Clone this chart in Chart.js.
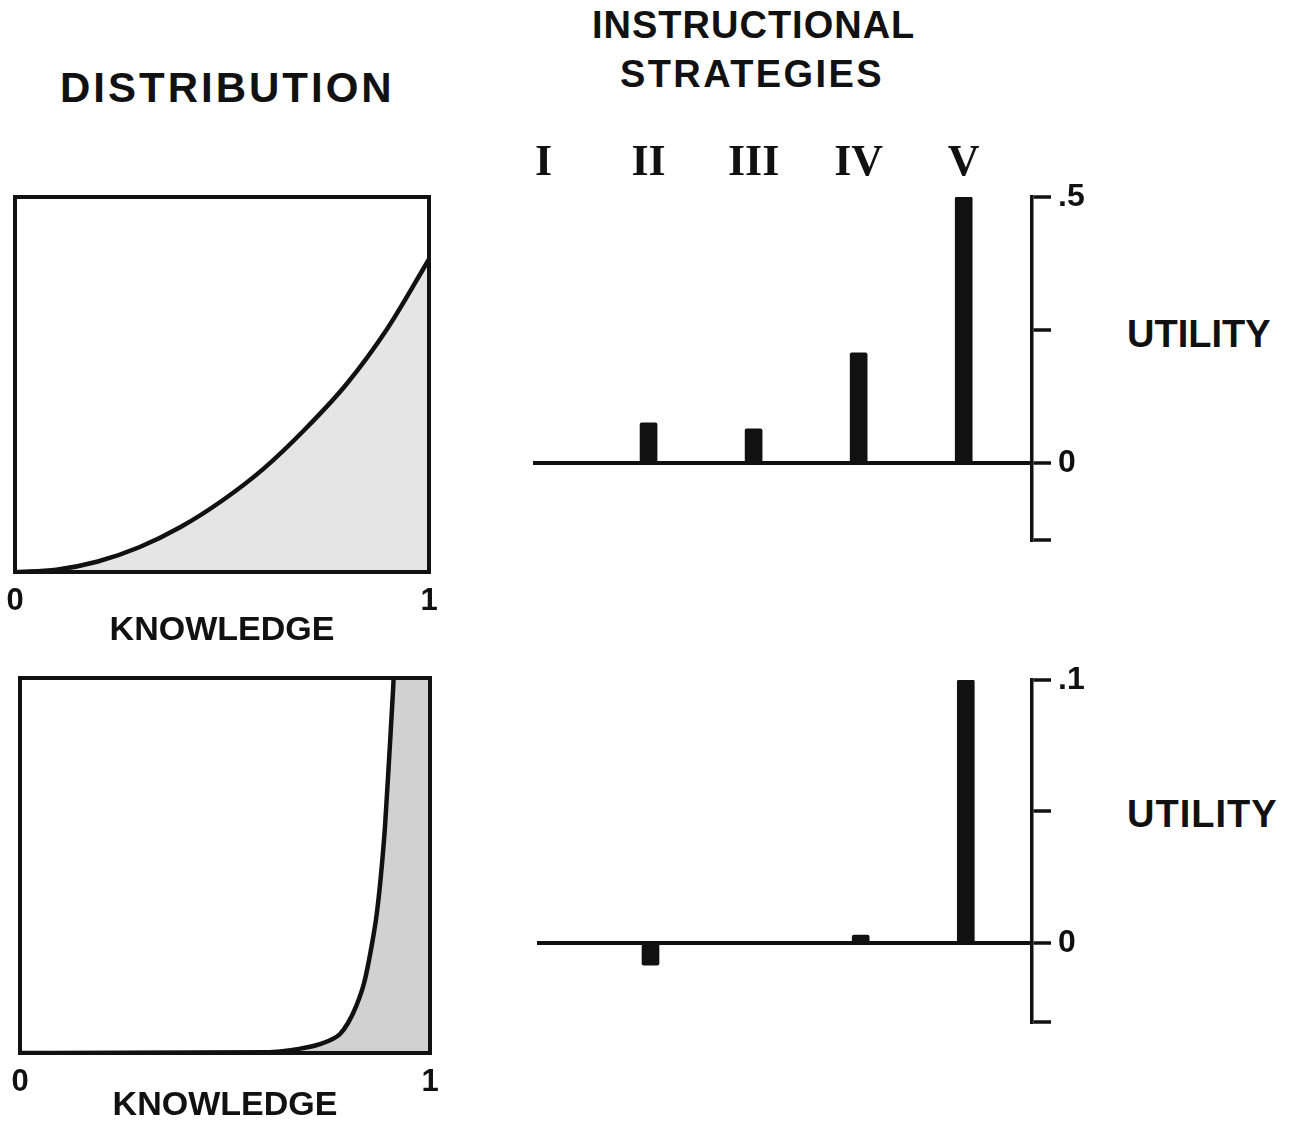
<!DOCTYPE html>
<html>
<head>
<meta charset="utf-8">
<script src="https://cdn.jsdelivr.net/npm/chart.js@4.4.0/dist/chart.umd.min.js"></script>
<style>
  body { margin: 0; background: #fff; width: 1290px; height: 1129px; overflow: hidden; position: relative;
         font-family: "Liberation Sans", Arial, sans-serif; }
  canvas { position: absolute; }
  .lbl { position: absolute; font-weight: bold; line-height: 1; white-space: nowrap; color: #111; }
</style>
</head>
<body>
<div class="lbl" style="left:60px;top:67px;font-size:42px;letter-spacing:3px">DISTRIBUTION</div>
<div class="lbl" style="left:592px;top:6px;font-size:38px;letter-spacing:1px">INSTRUCTIONAL</div>
<div class="lbl" style="left:620px;top:55px;font-size:38px;letter-spacing:2.4px">STRATEGIES</div>
<div class="lbl" style="left:1127px;top:315px;font-size:38px">UTILITY</div>
<div class="lbl" style="left:1127px;top:795px;font-size:38px;letter-spacing:1px">UTILITY</div>

<canvas id="dist-top" width="454" height="480" style="left:-5px;top:180px"></canvas>
<canvas id="dist-bottom" width="450" height="469" style="left:0;top:660px"></canvas>
<canvas id="util-top" width="640" height="446" style="left:480px;top:120px"></canvas>
<canvas id="util-bottom" width="640" height="448" style="left:480px;top:600px"></canvas>

<script>
// distribution curves (knowledge 0..1, density as share of box height)
const knowledgeTop  = [0, 0.1, 0.2, 0.3, 0.4, 0.5, 0.6, 0.7, 0.8, 0.9, 1];
const densityTop    = [0, 0.006, 0.028, 0.066, 0.12, 0.19, 0.275, 0.38, 0.5, 0.65, 0.834];
const knowledgeBottom = [0, 0.6, 0.64, 0.68, 0.72, 0.76, 0.78, 0.8, 0.82, 0.84, 0.86, 0.87, 0.88, 0.89, 0.9, 0.91, 0.92, 0.95, 1];
const densityBottom   = [0, 0.002, 0.005, 0.011, 0.02, 0.036, 0.05, 0.08, 0.125, 0.19, 0.3, 0.37, 0.47, 0.6, 0.78, 0.97, 1.2, 2.0, 3.5];
const knowledgeTicks = [0, 1];
const knowledgeTickLabels = ['0', '1'];

// instructional strategies and their utilities
const strategies = [1, 2, 3, 4, 5];
const strategyLabels = ['I', 'II', 'III', 'IV', 'V'];
const utilityTop    = [0, 0.075, 0.064, 0.207, 0.5];
const utilityBottom = [0, -0.0085, 0, 0.003, 0.1];
const utilityTicksTop = [-0.145, 0, 0.25, 0.5];
const utilityTickLabelsTop = ['', '0', '', '.5'];
const utilityTicksBottom = [-0.03, 0, 0.05, 0.1];
const utilityTickLabelsBottom = ['', '0', '', '.1'];

const INK = '#111';
const SANS = '"Liberation Sans", Arial, sans-serif';
const SERIF = '"Liberation Serif", "Times New Roman", serif';

const boxPlugin = {
  id: 'box',
  afterDatasetsDraw(chart) {
    const { ctx, chartArea: a } = chart;
    ctx.save();
    ctx.strokeStyle = INK;
    ctx.lineWidth = 4;
    ctx.strokeRect(a.left, a.top, a.right - a.left, a.bottom - a.top);
    ctx.restore();
  }
};

function distChart(id, xs, ys, shade, pad, axisH, titlePad) {
  return new Chart(document.getElementById(id), {
    type: 'line',
    data: {
      datasets: [{
        data: xs.map((x, i) => ({ x, y: ys[i] })),
        borderColor: INK,
        borderWidth: 4.5,
        pointRadius: 0,
        fill: 'origin',
        backgroundColor: shade,
        cubicInterpolationMode: 'monotone'
      }]
    },
    options: {
      responsive: false,
      animation: false,
      layout: { padding: pad },
      plugins: { legend: { display: false }, tooltip: { enabled: false } },
      scales: {
        x: {
          type: 'linear', min: 0, max: 1,
          grid: { display: false },
          border: { display: false },
          afterBuildTicks: s => { s.ticks = knowledgeTicks.map(v => ({ value: v })); },
          afterFit: s => { s.height = axisH; },
          ticks: {
            color: INK, padding: 3, maxRotation: 0, autoSkip: false,
            font: { family: SANS, size: 31, weight: 'bold' },
            callback: v => knowledgeTickLabels[knowledgeTicks.indexOf(v)]
          },
          title: {
            display: true, text: 'KNOWLEDGE', color: INK,
            font: { family: SANS, size: 34, weight: 'bold' },
            padding: { top: 0, bottom: titlePad }
          }
        },
        y: { display: false, min: 0, max: 1 }
      }
    },
    plugins: [boxPlugin]
  });
}

function utilityChart(id, values, ticks, tickLabels, xMin, xMax, pad, showStrategies, topH, yW) {
  return new Chart(document.getElementById(id), {
    type: 'bar',
    data: {
      datasets: [{
        data: strategies.map((s, i) => ({ x: s, y: values[i] })),
        backgroundColor: INK,
        barThickness: 17,
        borderRadius: 2,
        borderSkipped: 'start'
      }]
    },
    options: {
      responsive: false,
      animation: false,
      layout: { padding: pad },
      plugins: { legend: { display: false }, tooltip: { enabled: false } },
      scales: {
        x: {
          type: 'linear', position: 'top', display: showStrategies,
          min: xMin, max: xMax, offset: false,
          grid: { display: false },
          border: { display: false },
          afterBuildTicks: s => { s.ticks = strategies.map(v => ({ value: v })); },
          afterFit: s => { s.height = topH; },
          ticks: {
            color: INK, padding: -1, maxRotation: 0, autoSkip: false,
            font: { family: SERIF, size: 44, weight: 'bold' },
            callback: v => strategyLabels[strategies.indexOf(v)]
          }
        },
        y: {
          position: 'right',
          min: ticks[0], max: ticks[ticks.length - 1],
          afterBuildTicks: s => { s.ticks = ticks.map(v => ({ value: v })); },
          afterFit: s => { s.width = yW; },
          border: { display: true, color: INK, width: 3.5 },
          grid: {
            color: c => (c.tick && c.tick.value === 0) ? INK : 'rgba(0,0,0,0)',
            lineWidth: 4,
            drawTicks: true, tickLength: 19, tickWidth: 3.5, tickColor: INK
          },
          ticks: {
            color: INK, padding: 7, autoSkip: false,
            font: { family: SANS, size: 32, weight: 'bold' },
            callback: v => tickLabels[ticks.indexOf(v)]
          }
        }
      }
    }
  });
}

distChart('dist-top', knowledgeTop, densityTop, 'rgba(0,0,0,0.10)',
  { left: 20, top: 17, right: 20, bottom: 0 }, 88, 9);
distChart('dist-bottom', knowledgeBottom, densityBottom, 'rgba(0,0,0,0.18)',
  { left: 20, top: 18, right: 20, bottom: 0 }, 76, 3);

utilityChart('util-top', utilityTop, utilityTicksTop, utilityTickLabelsTop, 0.9, 5.65,
  { left: 53, top: 0, right: 0, bottom: 0 }, true, 77, 88);
utilityChart('util-bottom', utilityBottom, utilityTicksBottom, utilityTickLabelsBottom, 0.92, 5.63,
  { left: 57, top: 80, right: 0, bottom: 0 }, false, 0, 88);
</script>
</body>
</html>
